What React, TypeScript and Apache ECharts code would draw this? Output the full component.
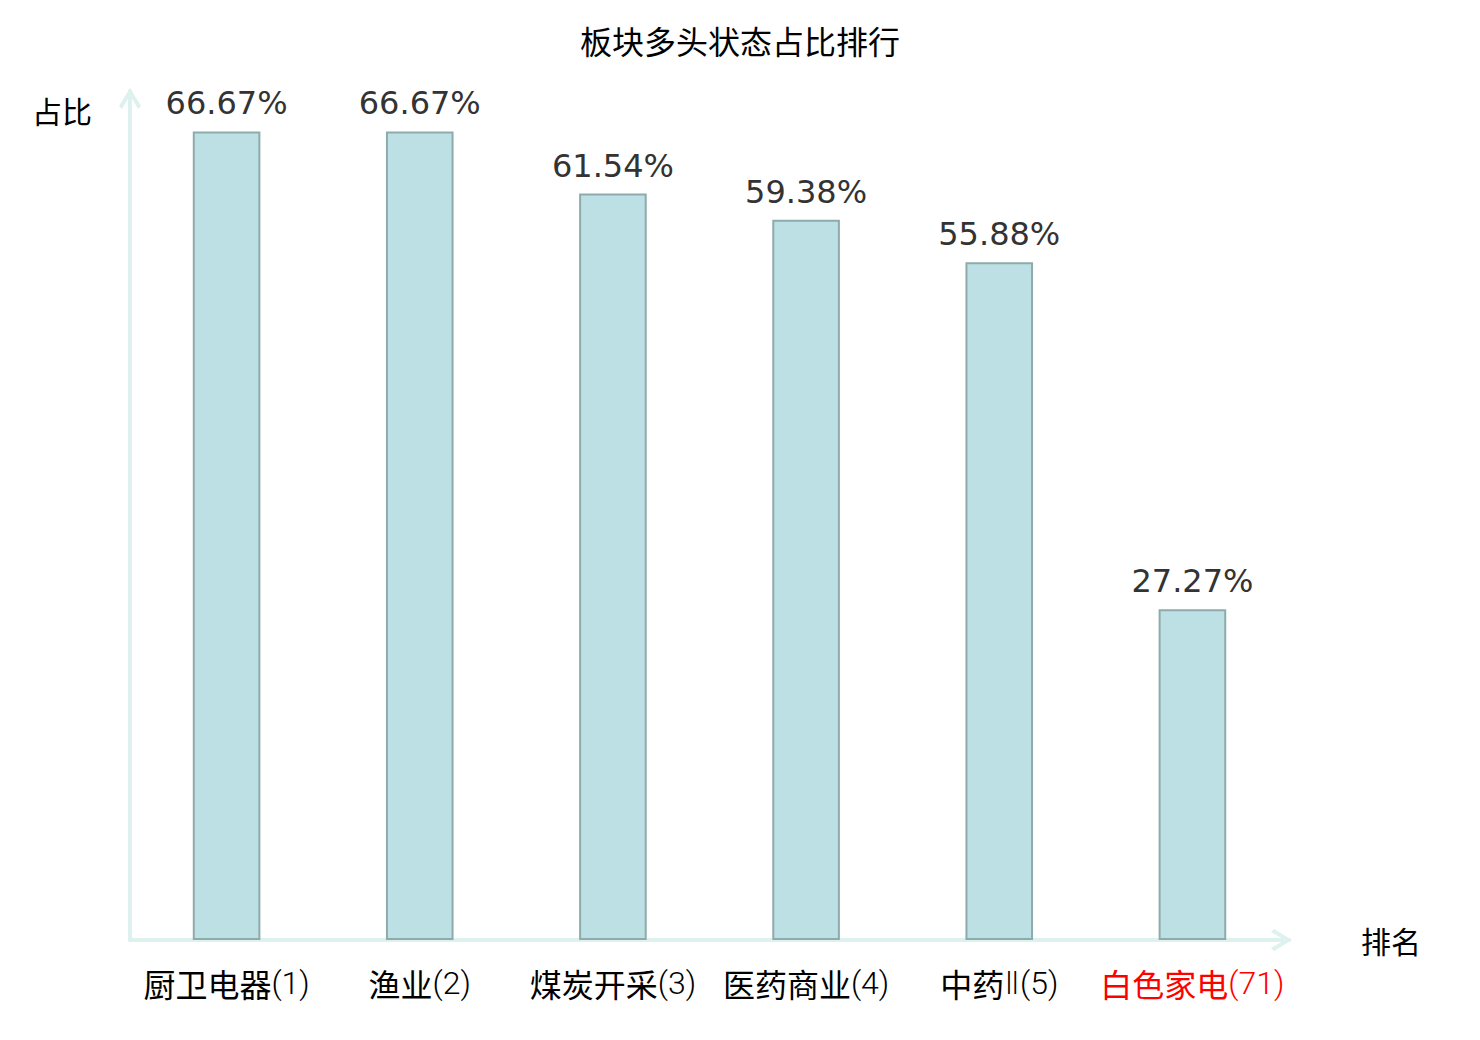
import React, { useEffect, useRef } from "react";
import * as echarts from "echarts";

const titleText = "板块多头状态占比排行";
const categories = ["厨卫电器(1)", "渔业(2)", "煤炭开采(3)", "医药商业(4)", "中药Ⅱ(5)", "白色家电(71)"];
const values = [66.67, 66.67, 61.54, 59.38, 55.88, 27.27];
const highlightIndex = 5;
const yName = "占比";
const xName = "排名";

const CJK = '"Noto Sans CJK SC", "DejaVu Sans", sans-serif';
const NUM = '"DejaVu Sans", "Noto Sans CJK SC", sans-serif';
const LIGHT = 'Roboto, "DejaVu Sans", "Noto Sans CJK SC", sans-serif';
const chevron = "path://M11 0 L22 18 L19 21 L11 7 L3 21 L0 18 Z";

function splitLabel(v: string) {
  const i = v.indexOf("(");
  const head = v.slice(0, i).replace("Ⅱ", "");
  const tail = (v.includes("Ⅱ") ? "Ⅱ" : "") + v.slice(i);
  return `{c|${head}}{n|${tail}}`;
}

export default function App() {
  const ref = useRef<HTMLDivElement>(null);
  useEffect(() => {
    document.body.style.margin = "0";
    const chart = echarts.init(ref.current!, null, { renderer: "svg" });
    const axisLine = {
      show: true,
      symbol: ["none", chevron],
      symbolSize: [22, 21],
      symbolOffset: [0, -7.5],
      lineStyle: { color: "#ddf1ee", width: 4 },
    };
    chart.setOption({
      animation: false,
      backgroundColor: "#ffffff",
      title: {
        text: titleText,
        left: "center",
        top: 19,
        textStyle: { fontFamily: CJK, fontSize: 32, fontWeight: "normal", color: "#000" },
      },
      grid: { left: 130, right: 191, top: 91, bottom: 100, containLabel: false },
      xAxis: {
        type: "category",
        data: categories.map((c, i) =>
          i === highlightIndex ? { value: c, textStyle: { color: "#ff0000" } } : c
        ),
        name: xName,
        nameGap: 72,
        nameTextStyle: { fontFamily: CJK, fontSize: 30, color: "#000" },
        axisLine,
        axisTick: { show: false },
        axisLabel: {
          fontFamily: CJK,
          fontSize: 32,
          color: "#000",
          margin: 27,
          interval: 0,
          formatter: (v: string) => splitLabel(v),
          rich: {
            c: { fontFamily: CJK, fontSize: 32, fontWeight: "normal" },
            n: { fontFamily: LIGHT, fontSize: 32, fontWeight: 300 },
          },
        },
        splitLine: { show: false },
      },
      yAxis: {
        type: "value",
        min: 0,
        max: 70,
        name: yName,
        nameLocation: "end",
        nameGap: -19,
        nameTextStyle: {
          fontFamily: CJK,
          fontSize: 30,
          color: "#000",
          align: "right",
          verticalAlign: "middle",
          padding: [0, 38, 0, 0],
        },
        axisLine,
        axisTick: { show: false },
        axisLabel: { show: false },
        splitLine: { show: false },
      },
      series: [
        {
          type: "bar",
          data: values,
          barWidth: "35%",
          itemStyle: { color: "#bce0e3", borderColor: "#8eabab", borderWidth: 2 },
          label: {
            show: true,
            position: "top",
            distance: 12,
            formatter: (p: any) => p.value.toFixed(2) + "%",
            fontFamily: NUM,
            fontSize: 32,
            color: "#333333",
          },
        },
      ],
    });
    return () => chart.dispose();
  }, []);
  return <div ref={ref} style={{ width: 1480, height: 1040 }} />;
}
